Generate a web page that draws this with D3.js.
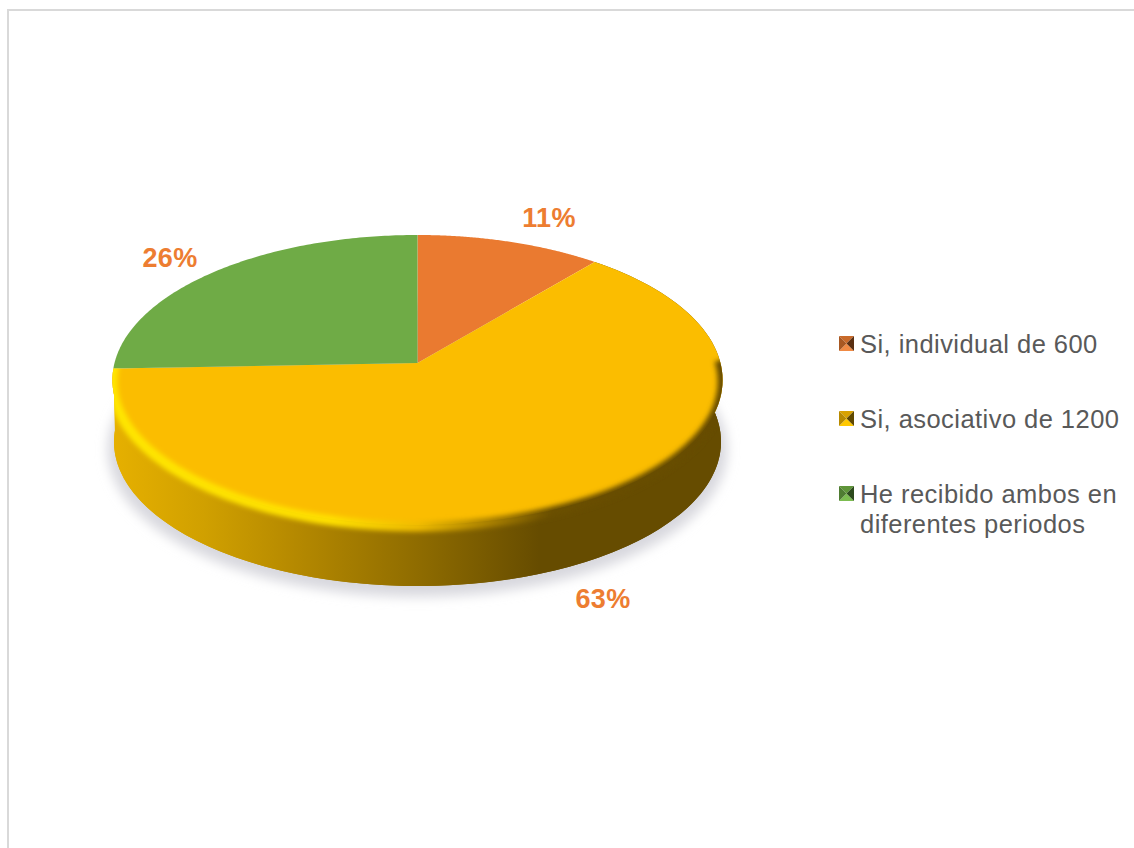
<!DOCTYPE html>
<html><head><meta charset="utf-8">
<script src="https://cdn.jsdelivr.net/npm/d3@7"></script>
<style>html,body{margin:0;padding:0;background:#fff;overflow:hidden}svg{display:block}text{font-family:"Liberation Sans",Arial,sans-serif}</style>
</head><body><svg id="c" width="1134" height="848"></svg>
<script>
const categories = ["Si, individual de 600", "Si, asociativo de 1200", "He recibido ambos en|diferentes periodos"];
const values = [11, 63.4, 25.6];
const colors = ["#EA7A30", "#FBBD00", "#6FAB46"];
const markerDark = ["#5a2f12", "#5f4800", "#2c4a1c"];
const markerLight = ["#f08a44", "#ffc800", "#7cbc50"];
const markerMid = ["#a85822", "#b88a00", "#4f7c32"];
const markerTop = ["#c96a2a", "#d8a200", "#5f9539"];
const labelColor = "#ED7D31";

const W = 1134, H = 848;
const svg = d3.select("#c");

// projection of the unit disc onto the tilted top face
const cx = 417.5, cy = 363, a = 303, b = 143, k = -0.117, depth = 62;
const project = (theta, scale = 1, dy = 0) => {
  const u = Math.sin(theta) * scale, v = -Math.cos(theta) * scale, d = 1 + k * v;
  return [cx + a * u / d, cy + b * v / d + dy];
};
const arcPts = (t0, t1, scale = 1, dy = 0) =>
  d3.range(0, 121).map(i => project(t0 + (t1 - t0) * i / 120, scale, dy));
const line = d3.line().curve(d3.curveLinear);

const arcs = d3.pie().sort(null).value(d => d)(values);
const yellow = arcs[1];

const defs = svg.append("defs");
const blur = (id, s) => defs.append("filter").attr("id", id)
  .attr("filterUnits", "userSpaceOnUse").attr("x", 0).attr("y", 0).attr("width", W).attr("height", H)
  .append("feGaussianBlur").attr("stdDeviation", s);
blur("shadowBlur", 6); blur("bevelBlur", 2.6);

const sideGrad = defs.append("linearGradient").attr("id", "side")
  .attr("gradientUnits", "userSpaceOnUse").attr("x1", 113).attr("x2", 722).attr("y1", 0).attr("y2", 0);
[[0, "#e6b000"], [0.15, "#d0a000"], [0.3, "#b58900"], [0.5, "#8f6c00"], [0.7, "#664c00"], [1, "#664c00"]]
  .forEach(s => sideGrad.append("stop").attr("offset", s[0]).attr("stop-color", s[1]));

const bevelGrad = defs.append("linearGradient").attr("id", "bevel")
  .attr("gradientUnits", "userSpaceOnUse").attr("x1", 113).attr("x2", 722).attr("y1", 0).attr("y2", 0);
[[0, "#ffe600"], [0.36, "#ffe000"], [0.5, "#f0bc00"], [0.62, "#a98000"], [0.72, "#6a4f00"], [1, "#664c00"]]
  .forEach(s => bevelGrad.append("stop").attr("offset", s[0]).attr("stop-color", s[1]));

// chart frame
svg.append("path").attr("d", `M8,${H}V10H${W}`).attr("fill", "none").attr("stroke", "#d9d9d9").attr("stroke-width", 2);

// soft shadow
svg.append("path").attr("d", line(arcPts(0, 2 * Math.PI, 1.015, depth + 7)) + "Z")
  .attr("fill", "#d8d8de").attr("filter", "url(#shadowBlur)");

// side wall
const wall = arcPts(yellow.startAngle, yellow.endAngle).concat(arcPts(yellow.startAngle, yellow.endAngle, 0.995, depth).reverse());
svg.append("path").attr("d", line(wall) + "Z").attr("fill", "url(#side)");
const bottom = line(arcPts(0, 2 * Math.PI, 0.995, depth)) + "Z";
defs.append("clipPath").attr("id", "wallClip").append("rect")
  .attr("x", 0).attr("y", cy + 30).attr("width", W).attr("height", H);
svg.append("path").attr("d", bottom).attr("fill", "url(#side)").attr("clip-path", "url(#wallClip)");

// top face wedges
const wedge = d => line([[cx, cy], ...arcPts(d.startAngle, d.endAngle)]) + "Z";
svg.selectAll("path.wedge").data(arcs).join("path").attr("class", "wedge")
  .attr("d", wedge).attr("fill", (d, i) => colors[i]);

// bevel straddling the rim of the yellow slice
const rimClip = defs.append("clipPath").attr("id", "rimClip");
rimClip.append("path").attr("d", wedge(yellow));
rimClip.append("path").attr("d", line(wall) + "Z");
svg.append("g").attr("clip-path", "url(#rimClip)")
  .append("path")
  .attr("d", line(arcPts(yellow.startAngle + 0.85, yellow.endAngle + 0.15, 1, 1.5)))
  .attr("fill", "none").attr("stroke", "url(#bevel)").attr("stroke-width", 10)
  .attr("filter", "url(#bevelBlur)");

// value labels
const labelPos = [[549, 227], [603, 608], [170, 267]];
const total = d3.sum(values);
svg.selectAll("text.val").data(arcs).join("text").attr("class", "val")
  .attr("x", (d, i) => labelPos[i][0]).attr("y", (d, i) => labelPos[i][1])
  .attr("text-anchor", "middle").attr("font-size", 27).attr("font-weight", "bold")
  .attr("letter-spacing", 0.3)
  .attr("fill", labelColor).text(d => d3.format(".0%")(d.value / total));

// legend
const legendBase = [353, 428, 503];
const mx = 839, ms = 15;
categories.forEach((c, i) => {
  const y = legendBase[i] - 17, g = svg.append("g").attr("class", "legend");
  const ctr = [mx + ms / 2, y + ms / 2];
  const tri = (p, q, f) => g.append("path").attr("d", line([p, q, ctr]) + "Z").attr("fill", f);
  tri([mx, y], [mx + ms, y], markerTop[i]);
  tri([mx, y + ms], [mx + ms, y + ms], markerLight[i]);
  tri([mx, y], [mx, y + ms], markerMid[i]);
  tri([mx + ms, y], [mx + ms, y + ms], markerDark[i]);
  c.split("|").forEach((t, j) => {
    g.append("text").attr("x", 860).attr("y", legendBase[i] + j * 30)
      .attr("font-size", 25.5).attr("letter-spacing", 0.45).attr("fill", "#595959").text(t);
  });
});
</script></body></html>
